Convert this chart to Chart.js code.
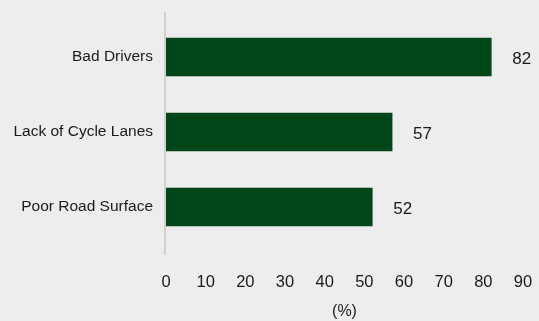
<!DOCTYPE html>
<html>
<head>
<meta charset="utf-8">
<script src="https://cdn.jsdelivr.net/npm/chart.js@4/dist/chart.umd.min.js"></script>
<style>
  html, body { margin: 0; padding: 0; background: #ededed; }
  #wrap { width: 539px; height: 321px; position: relative; }
</style>
</head>
<body>
<div id="wrap"><canvas id="c" width="539" height="321"></canvas></div>
<script>
const categories = ["Bad Drivers", "Lack of Cycle Lanes", "Poor Road Surface"];
const values = [82, 57, 52];
const xTicks = [0, 10, 20, 30, 40, 50, 60, 70, 80, 90];
const axisTitle = "(%)";

const FONT = "'Liberation Sans', Arial, sans-serif";
const TEXT = "#1a1a1a";

const axisLine = {
  id: 'axisLine',
  beforeDatasetsDraw(chart) {
    const { ctx, chartArea } = chart;
    ctx.save();
    ctx.strokeStyle = '#d3cfcb';
    ctx.lineWidth = 2;
    ctx.beginPath();
    ctx.moveTo(chartArea.left - 1, chartArea.top - 7.5);
    ctx.lineTo(chartArea.left - 1, chartArea.bottom + 10.5);
    ctx.stroke();
    ctx.restore();
  }
};

const valueLabels = {
  id: 'valueLabels',
  afterDatasetsDraw(chart) {
    const { ctx } = chart;
    const meta = chart.getDatasetMeta(0);
    ctx.save();
    ctx.font = "17px " + FONT;
    ctx.fillStyle = TEXT;
    ctx.textAlign = 'left';
    ctx.textBaseline = 'middle';
    meta.data.forEach((bar, i) => {
      ctx.fillText(String(values[i]), bar.x + 21, bar.y + 2);
    });
    ctx.restore();
  }
};

new Chart(document.getElementById('c'), {
  type: 'bar',
  data: {
    labels: categories,
    datasets: [{
      data: values,
      backgroundColor: '#01471a',
      borderWidth: 0,
      barThickness: 38
    }]
  },
  options: {
    indexAxis: 'y',
    responsive: false,
    animation: false,
    devicePixelRatio: 1,
    layout: { padding: { top: 19.5, right: 16, bottom: 0, left: 0 } },
    plugins: { legend: { display: false }, tooltip: { enabled: false } },
    scales: {
      y: {
        grid: { display: false, drawTicks: false },
        border: { display: false },
        ticks: { color: TEXT, font: { family: FONT, size: 15.5 }, padding: 13 },
        afterFit(s) { s.width = 166; s.paddingTop = 0; s.paddingBottom = 0; }
      },
      x: {
        min: xTicks[0],
        max: xTicks[xTicks.length - 1],
        afterBuildTicks(s) { s.ticks = xTicks.map(v => ({ value: v })); },
        grid: { display: false, drawTicks: false },
        border: { display: false },
        ticks: { color: TEXT, font: { family: FONT, size: 16.5 }, padding: 28, maxRotation: 0 },
        title: {
          display: true,
          text: axisTitle,
          color: TEXT,
          font: { family: FONT, size: 16 },
          padding: { top: 0, bottom: 0 }
        },
        afterFit(s) { s.height = 76.5; s.paddingLeft = 0; s.paddingRight = 0; }
      }
    }
  },
  plugins: [axisLine, valueLabels]
});
</script>
</body>
</html>
